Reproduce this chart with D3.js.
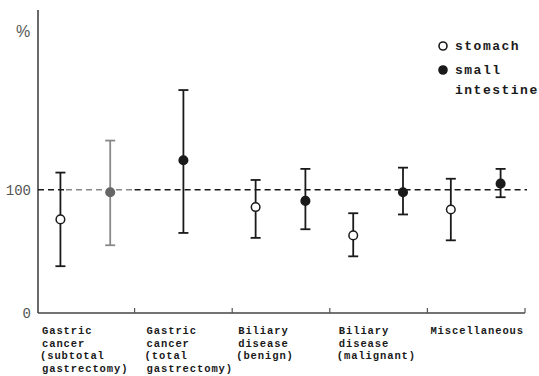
<!DOCTYPE html>
<html><head><meta charset="utf-8">
<script src="https://cdn.jsdelivr.net/npm/d3@7"></script>
<style>html,body{margin:0;padding:0;background:#fff;}svg{display:block;}</style>
</head><body>
<svg id="c" width="539" height="376"></svg>
<script>
const categories = [
  ["Gastric","cancer","(subtotal","gastrectomy)"],
  ["Gastric","cancer","(total","gastrectomy)"],
  ["Biliary","disease","(benign)"],
  ["Biliary","disease","(malignant)"],
  ["Miscellaneous"]
];
const stomachMean = [76, null, 86, 63, 84];
const stomachLow  = [38, null, 61, 46, 59];
const stomachHigh = [114, null, 108, 81, 109];
const intestineMean = [98, 124, 91, 98, 105];
const intestineLow  = [55, 65, 68, 80, 94];
const intestineHigh = [140, 181, 117, 118, 117];
const yTicks = [0, 100];
const refValue = 100;
const legendItems = [["stomach"], ["small", "intestine"]];

const svg = d3.select("#c");
const axisLeft = 38, axisRight = 525, yBottom = 313, yTop = 10;
const y = d3.scaleLinear().domain([0, 246]).range([yBottom, yTop]);
const x = d3.scaleBand().domain(d3.range(categories.length)).range([37, 525]).padding(0);
const bw = x.bandwidth();
const ink = "#1a1a1a";
const labelOffsets = [5, 12, 6, 9, 3];

// axes
svg.append("line").attr("x1", axisLeft).attr("x2", axisLeft).attr("y1", yTop).attr("y2", yBottom)
  .attr("stroke", "#444").attr("stroke-width", 1.6);
svg.append("line").attr("x1", axisLeft).attr("x2", axisRight).attr("y1", yBottom).attr("y2", yBottom)
  .attr("stroke", "#444").attr("stroke-width", 1.6);
const bounds = d3.range(1, categories.length).map(i => x(i)).concat([axisRight]);
svg.selectAll("line.bt").data(bounds).enter().append("line")
  .attr("x1", d => d).attr("x2", d => d).attr("y1", yBottom).attr("y2", yBottom - 5)
  .attr("stroke", "#555").attr("stroke-width", 1.2);

// y tick labels
svg.selectAll("text.yt").data(yTicks).enter().append("text")
  .attr("x", 31).attr("y", d => y(d)).attr("dy", "0.35em")
  .attr("text-anchor", "end")
  .attr("font-family", "Liberation Mono, monospace").attr("font-size", 14)
  .attr("fill", "#555").text(d => d);
svg.append("text").attr("x", 16).attr("y", 37)
  .attr("font-family", "Liberation Sans, sans-serif").attr("font-size", 16)
  .attr("fill", "#555").text("%");

// reference dashed line (gray where it crosses the gray bar region)
const segs = [[axisLeft, 66, ink], [66, x(1), "#888"], [x(1), 527, ink]];
segs.forEach(s => {
  svg.append("line").attr("x1", s[0]).attr("x2", s[1]).attr("y1", y(refValue)).attr("y2", y(refValue))
    .attr("stroke", s[2]).attr("stroke-width", 1.5).attr("stroke-dasharray", "6,4");
});

function pts(mean, low, high, kind) {
  return mean.map((m, i) => {
    if (m == null) return null;
    let frac;
    if (kind === "s") frac = 0.24;
    else frac = stomachMean[i] == null ? 0.5 : 0.75;
    return {cx: x(i) + frac * bw, m, lo: low[i], hi: high[i], kind, gray: kind === "i" && i === 0};
  }).filter(d => d);
}
const all = pts(stomachMean, stomachLow, stomachHigh, "s").concat(pts(intestineMean, intestineLow, intestineHigh, "i"));
const cap = 5;
const g = svg.selectAll("g.pt").data(all).enter().append("g");
g.append("line").attr("x1", d => d.cx).attr("x2", d => d.cx).attr("y1", d => y(d.lo)).attr("y2", d => y(d.hi))
  .attr("stroke", d => d.gray ? "#888" : ink).attr("stroke-width", 1.8);
g.append("line").attr("x1", d => d.cx - cap).attr("x2", d => d.cx + cap).attr("y1", d => y(d.hi)).attr("y2", d => y(d.hi))
  .attr("stroke", d => d.gray ? "#888" : ink).attr("stroke-width", 1.8);
g.append("line").attr("x1", d => d.cx - cap).attr("x2", d => d.cx + cap).attr("y1", d => y(d.lo)).attr("y2", d => y(d.lo))
  .attr("stroke", d => d.gray ? "#888" : ink).attr("stroke-width", 1.8);
g.append("circle").attr("cx", d => d.cx).attr("cy", d => y(d.m)).attr("r", 4.3)
  .attr("fill", d => d.kind === "s" ? "#fff" : (d.gray ? "#666" : ink))
  .attr("stroke", d => d.gray ? "#666" : ink).attr("stroke-width", 1.5);

// category labels
const mono = "Liberation Mono, Courier New, monospace";
categories.forEach((lines, i) => {
  const t = svg.append("text").attr("font-family", mono).attr("font-size", 10.5).attr("font-weight", "bold")
    .attr("letter-spacing", 0.9).attr("fill", ink);
  lines.forEach((ln, j) => {
    t.append("tspan").attr("x", x(i) + labelOffsets[i] + (ln.startsWith("(") ? -2 : 0))
      .attr("y", 334 + j * 12.5).text(ln);
  });
});

// legend
const lx = 443;
legendItems.forEach((lines, k) => {
  const cy = 46 + k * 24;
  svg.append("circle").attr("cx", lx).attr("cy", cy).attr("r", 4)
    .attr("fill", k === 0 ? "#fff" : ink).attr("stroke", ink).attr("stroke-width", 1.6);
  const t = svg.append("text").attr("font-family", mono).attr("font-size", 13).attr("font-weight", "bold")
    .attr("letter-spacing", 1.5).attr("fill", ink);
  lines.forEach((ln, j) => {
    t.append("tspan").attr("x", 455).attr("y", cy + 4 + j * 20).text(ln);
  });
});
</script>
</body></html>
